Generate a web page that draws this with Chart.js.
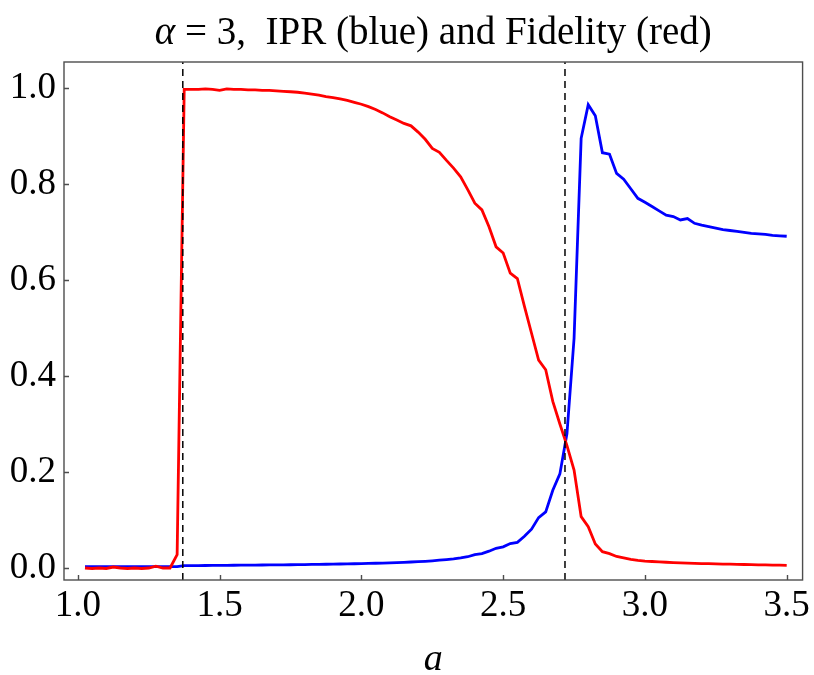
<!DOCTYPE html>
<html>
<head>
<meta charset="utf-8">
<script src="https://cdn.jsdelivr.net/npm/chart.js@4.4.1/dist/chart.umd.min.js"></script>
<style>
  html, body { margin: 0; padding: 0; background: #ffffff; }
  #wrap { width: 814px; height: 675px; }
</style>
</head>
<body>
<div id="wrap"><canvas id="c" width="814" height="675"></canvas></div>
<script>
// ---- data ----
const aValues = [
  1.025, 1.05, 1.075, 1.1, 1.125, 1.15, 1.175, 1.2, 1.225, 1.25,
  1.275, 1.3, 1.325, 1.35, 1.375, 1.4, 1.425, 1.45, 1.475, 1.5,
  1.525, 1.55, 1.575, 1.6, 1.625, 1.65, 1.675, 1.7, 1.725, 1.75,
  1.775, 1.8, 1.825, 1.85, 1.875, 1.9, 1.925, 1.95, 1.975, 2.0,
  2.025, 2.05, 2.075, 2.1, 2.125, 2.15, 2.175, 2.2, 2.225, 2.25,
  2.275, 2.3, 2.325, 2.35, 2.375, 2.4, 2.425, 2.45, 2.475, 2.5,
  2.525, 2.55, 2.575, 2.6, 2.625, 2.65, 2.675, 2.7, 2.725, 2.75,
  2.775, 2.8, 2.825, 2.85, 2.875, 2.9, 2.925, 2.95, 2.975, 3.0,
  3.025, 3.05, 3.075, 3.1, 3.125, 3.15, 3.175, 3.2, 3.225, 3.25,
  3.275, 3.3, 3.325, 3.35, 3.375, 3.4, 3.425, 3.45, 3.475, 3.5
];
const fidelity = [
  0.000, -0.001, 0.000, -0.001, 0.002, 0.000, -0.001, 0.000, -0.001, 0.000,
  0.004, 0.000, 0.000, 0.028, 0.997, 0.997, 0.997, 0.998, 0.997, 0.995,
  0.998, 0.997, 0.997, 0.996, 0.996, 0.995, 0.995, 0.994, 0.993, 0.992,
  0.991, 0.989, 0.987, 0.985, 0.982, 0.980, 0.977, 0.974, 0.970, 0.966,
  0.961, 0.955, 0.948, 0.940, 0.933, 0.926, 0.921, 0.908, 0.893, 0.874,
  0.866, 0.849, 0.833, 0.815, 0.788, 0.760, 0.746, 0.711, 0.669, 0.656,
  0.614, 0.603, 0.545, 0.489, 0.433, 0.413, 0.347, 0.300, 0.255, 0.204,
  0.107, 0.086, 0.050, 0.034, 0.030, 0.024, 0.021, 0.018, 0.016, 0.0145,
  0.0135, 0.0128, 0.0120, 0.0113, 0.0107, 0.0102, 0.0097, 0.0093, 0.0089, 0.0085,
  0.0082, 0.0079, 0.0076, 0.0073, 0.0070, 0.0067, 0.0064, 0.0061, 0.0059, 0.0056
];
const ipr = [
  0.003, 0.003, 0.003, 0.003, 0.003, 0.003, 0.003, 0.003, 0.003, 0.003,
  0.003, 0.003, 0.003, 0.003, 0.005, 0.005, 0.005, 0.0052, 0.0053, 0.0055,
  0.0056, 0.0057, 0.0058, 0.0060, 0.0061, 0.0062, 0.0063, 0.0065, 0.0066, 0.0068,
  0.0070, 0.0072, 0.0074, 0.0076, 0.0078, 0.0080, 0.0083, 0.0086, 0.0089, 0.0092,
  0.0095, 0.0099, 0.0103, 0.0108, 0.0113, 0.0119, 0.0125, 0.0132, 0.0140, 0.0150,
  0.0162, 0.0175, 0.0190, 0.0210, 0.0235, 0.028, 0.030, 0.035, 0.041, 0.044,
  0.051, 0.0535, 0.066, 0.081, 0.105, 0.117, 0.162, 0.196, 0.280, 0.478,
  0.895, 0.965, 0.942, 0.865, 0.862, 0.822, 0.810, 0.790, 0.770, 0.762,
  0.753, 0.744, 0.735, 0.732, 0.725, 0.728, 0.718, 0.714, 0.711, 0.708,
  0.705, 0.703, 0.701, 0.699, 0.697, 0.696, 0.695, 0.693, 0.692, 0.691
];
const criticalA = [1.37, 2.718];
const xTickValues = [1.0, 1.5, 2.0, 2.5, 3.0, 3.5];
const yTickValues = [0.0, 0.2, 0.4, 0.6, 0.8, 1.0];
const titleSymbol = "\u03b1";
const titleRest = " = 3,  IPR (blue) and Fidelity (red)";
const xAxisLabel = "a";

// ---- axis limits ----
const X_MIN = 0.951, X_MAX = 3.556;
const Y_MIN = -0.025, Y_MAX = 1.054;

const SERIF = "'Liberation Serif', 'DejaVu Serif', serif";

const toXY = (ys) => aValues.map((a, i) => ({ x: a, y: ys[i] }));

const vlineSets = criticalA.map(a => ({
  label: 'crit',
  data: [{ x: a, y: Y_MIN }, { x: a, y: Y_MAX }],
  borderColor: '#000000',
  borderWidth: 1.5,
  borderDash: [7, 5],
  pointRadius: 0,
  tension: 0
}));

const titlePlugin = {
  id: 'mathTitle',
  afterDraw(chart) {
    const { ctx, chartArea: ca } = chart;
    ctx.save();
    ctx.fillStyle = '#000000';
    ctx.textBaseline = 'alphabetic';
    ctx.textAlign = 'left';
    const fItal = "italic 39px " + SERIF;
    const fNorm = "39px " + SERIF;
    ctx.font = fItal;
    const w1 = ctx.measureText(titleSymbol).width;
    ctx.font = fNorm;
    const w2 = ctx.measureText(titleRest).width;
    const cx = (ca.left + ca.right) / 2;
    let x = cx - (w1 + w2) / 2;
    ctx.font = fItal;
    ctx.fillText(titleSymbol, x, 44);
    ctx.font = fNorm;
    ctx.fillText(titleRest, x + w1, 44);
    ctx.restore();
  }
};

const framePlugin = {
  id: 'frameTicks',
  afterDraw(chart) {
    const { ctx, chartArea: ca, scales } = chart;
    ctx.save();
    ctx.strokeStyle = '#4d4d4d';
    ctx.lineWidth = 1.4;
    ctx.beginPath();
    xTickValues.forEach(v => {
      const px = Math.round(scales.x.getPixelForValue(v)) + 0.5;
      ctx.moveTo(px, ca.bottom);
      ctx.lineTo(px, ca.bottom - 5);
    });
    yTickValues.forEach(v => {
      const py = Math.round(scales.y.getPixelForValue(v)) + 0.5;
      ctx.moveTo(ca.left, py);
      ctx.lineTo(ca.left + 5, py);
    });
    ctx.stroke();
    ctx.strokeRect(ca.left, ca.top, ca.right - ca.left, ca.bottom - ca.top);
    ctx.restore();
  }
};

new Chart(document.getElementById('c'), {
  type: 'line',
  data: {
    datasets: [
      ...vlineSets,
      {
        label: 'Fidelity',
        data: toXY(fidelity),
        borderColor: '#ff0000',
        borderWidth: 2.8,
        pointRadius: 0,
        tension: 0
      },
      {
        label: 'IPR',
        data: toXY(ipr),
        borderColor: '#0000ff',
        borderWidth: 2.8,
        pointRadius: 0,
        tension: 0
      }
    ]
  },
  options: {
    responsive: false,
    animation: false,
    devicePixelRatio: 1,
    layout: { padding: { left: 0, right: 8, top: 62, bottom: 0 } },
    plugins: {
      legend: { display: false },
      tooltip: { enabled: false },
      title: { display: false }
    },
    scales: {
      x: {
        type: 'linear',
        min: X_MIN,
        max: X_MAX,
        afterBuildTicks: (s) => { s.ticks = xTickValues.map(v => ({ value: v })); },
        afterFit: (s) => { s.height = 95; },
        grid: { display: false, drawTicks: false },
        border: { display: false },
        ticks: {
          color: '#000000',
          padding: 4,
          maxRotation: 0,
          autoSkip: false,
          font: { family: SERIF, size: 37 },
          callback: (v) => Number(v).toFixed(1)
        },
        title: {
          display: true,
          text: xAxisLabel,
          color: '#000000',
          font: { family: SERIF, size: 38, style: 'italic', lineHeight: 1.0 },
          padding: { top: 0, bottom: -4 }
        }
      },
      y: {
        type: 'linear',
        min: Y_MIN,
        max: Y_MAX,
        afterBuildTicks: (s) => { s.ticks = yTickValues.map(v => ({ value: v })); },
        afterFit: (s) => { s.width = 64; },
        grid: { display: false, drawTicks: false },
        border: { display: false },
        ticks: {
          color: '#000000',
          padding: 8,
          autoSkip: false,
          font: { family: SERIF, size: 37 },
          callback: (v) => Number(v).toFixed(1)
        }
      }
    }
  },
  plugins: [framePlugin, titlePlugin]
});
</script>
</body>
</html>
